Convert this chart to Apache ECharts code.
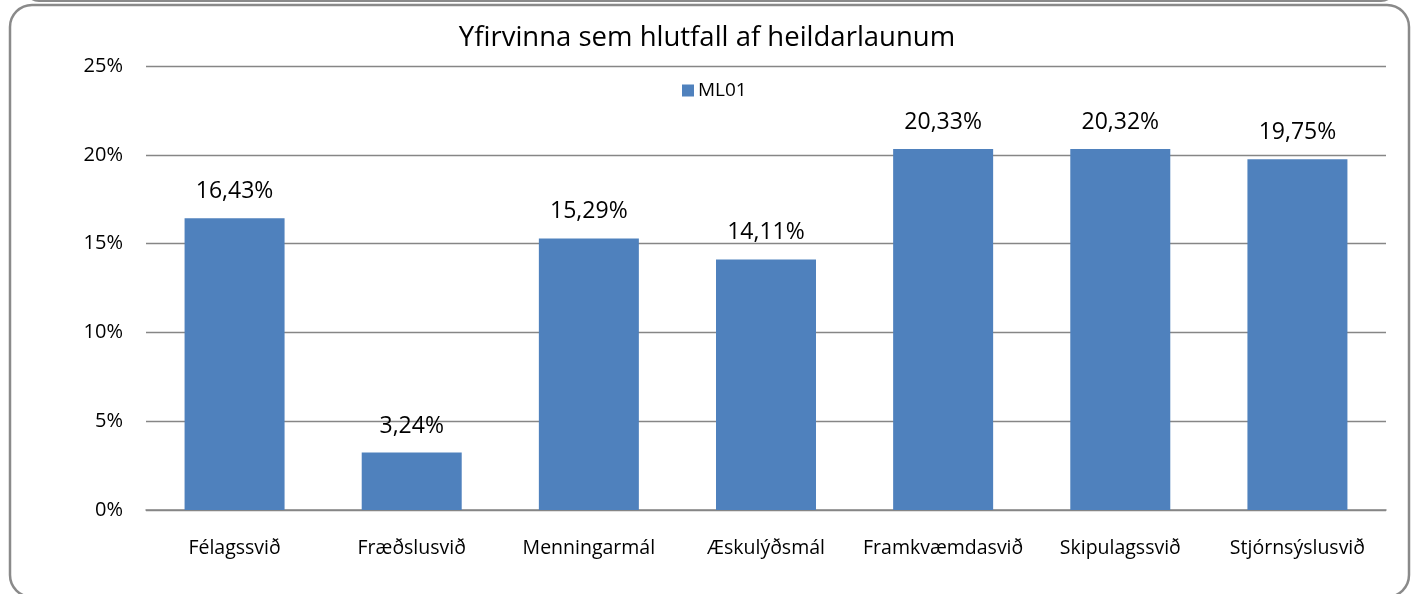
<!DOCTYPE html>
<html><head><meta charset="utf-8">
<script src="https://cdn.jsdelivr.net/npm/echarts@6/dist/echarts.min.js"></script>
<style>html,body{margin:0;padding:0;background:#fff}#c{width:1418px;height:594px}</style>
</head><body><div id="c"></div>
<script>
const categories = ['Félagssvið','Fræðslusvið','Menningarmál','Æskulýðsmál','Framkvæmdasvið','Skipulagssvið','Stjórnsýslusvið'];
const seriesName = 'ML01';
const values = [16.43, 3.24, 15.29, 14.11, 20.33, 20.32, 19.75];
const titleText = 'Yfirvinna sem hlutfall af heildarlaunum';
const font = '"Open Sans", "Noto Sans", sans-serif';
const chart = echarts.init(document.getElementById('c'));
chart.setOption({
  animation: false,
  backgroundColor: '#fff',
  graphic: [
    {type:'rect', shape:{x:25,y:-30,width:1370,height:31,r:14}, style:{fill:'none',stroke:'#8a8a8a',lineWidth:2}, silent:true},
    {type:'rect', shape:{x:10,y:5,width:1399,height:592,r:22}, style:{fill:'none',stroke:'#8a8a8a',lineWidth:2.5}, silent:true}
  ],
  title: {text: titleText, left: 702, top: 19, textAlign: 'center',
    textStyle:{fontFamily:font, fontSize:27.5, fontWeight:'normal', color:'#000'}},
  legend: {data:[seriesName], left: 682, top: 81, padding: 0, itemWidth: 12, itemHeight: 12, itemGap: 5,
    icon:'rect', textStyle:{fontFamily:font, fontSize:19, color:'#000', padding:[0,0,0,-1]}},
  grid: {left:146, right:32, top:66, bottom:84},
  xAxis: {type:'category', data: categories,
    axisLine:{show:true, lineStyle:{color:'#868686', width:1.5}},
    axisTick:{show:false},
    axisLabel:{interval:0, hideOverlap:false, fontFamily:font, fontSize:19.5, color:'#000', margin:28}},
  yAxis: {type:'value', min:0, max:25, interval:5,
    axisLine:{show:false}, axisTick:{show:false},
    splitLine:{lineStyle:{color:'#868686', width:1.3}},
    axisLabel:{fontFamily:font, fontSize:20, color:'#000', margin:23, formatter: v => v + '%'}},
  series: [{name: seriesName, type:'bar', data: values, barWidth: 100,
    itemStyle:{color:'#4F81BD'},
    label:{show:true, position:'top', distance:15, fontFamily:font, fontSize:23, color:'#000',
      formatter: p => p.value.toFixed(2).replace('.', ',') + '%'}}]
});
</script></body></html>
